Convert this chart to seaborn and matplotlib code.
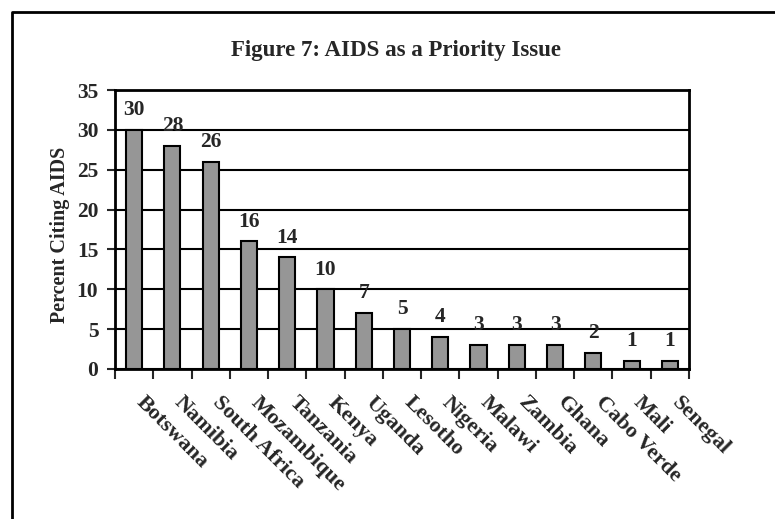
import matplotlib
matplotlib.use("Agg")
import matplotlib.pyplot as plt
import matplotlib.transforms as mtransforms
from matplotlib.lines import Line2D
import seaborn as sns
import pandas as pd

countries = ["Botswana", "Namibia", "South Africa", "Mozambique", "Tanzania",
             "Kenya", "Uganda", "Lesotho", "Nigeria", "Malawi", "Zambia",
             "Ghana", "Cabo Verde", "Mali", "Senegal"]
percent = [30, 28, 26, 16, 14, 10, 7, 5, 4, 3, 3, 3, 2, 1, 1]
y_ticks = [0, 5, 10, 15, 20, 25, 30, 35]

sns.set_style("white")
plt.rcParams['font.family'] = ['Liberation Serif', 'DejaVu Serif']
plt.rcParams['font.weight'] = 'bold'

FS = 15.5

df = pd.DataFrame({'country': countries, 'pct': percent})

fig = plt.figure(figsize=(7.75, 5.19), dpi=100)
ax = fig.add_axes([115 / 775, 1 - 369 / 519, 574 / 775, 279 / 519])

sns.barplot(data=df, x='country', y='pct', color='#969696', saturation=1,
            edgecolor='black', linewidth=1.5, width=0.42, ax=ax, zorder=3)

ax.set_ylim(0, 35)
ax.set_xlim(-0.5, len(countries) - 0.5)
ax.set_yticks(y_ticks)
ax.yaxis.grid(True, color='black', linewidth=1.5)
ax.set_axisbelow(True)

for s in ax.spines.values():
    s.set_visible(True)
    s.set_color('black')
    s.set_linewidth(2)

ax.bar_label(ax.containers[0], padding=7, fontsize=FS, fontweight='bold')

ax.set_xlabel('')
ax.set_ylabel('')
ax.tick_params(axis='y', which='major', direction='out', length=6, width=1.5,
               pad=6, labelsize=FS, left=True)
ax.set_xticks([i - 0.5 for i in range(len(countries) + 1)], minor=True)
ax.tick_params(axis='x', which='minor', direction='out', length=7, width=1.5,
               bottom=True)
ax.tick_params(axis='x', which='major', length=0, pad=17, labelsize=16)

offset = mtransforms.ScaledTranslation(12 / 100, 0, fig.dpi_scale_trans)
for lab in ax.get_xticklabels():
    lab.set_rotation(-45)
    lab.set_rotation_mode('anchor')
    lab.set_ha('left')
    lab.set_va('top')
    lab.set_fontweight('bold')
    lab.set_transform(lab.get_transform() + offset)
for lab in ax.get_yticklabels():
    lab.set_fontweight('bold')

fig.text(60 / 775, 1 - 235 / 519, 'Percent Citing AIDS', rotation=90,
         ha='center', va='center', fontsize=14.5, fontweight='bold')
fig.text(396 / 775, 1 - 56 / 519, 'Figure 7: AIDS as a Priority Issue',
         ha='center', va='baseline', fontsize=16.5, fontweight='bold')

# outer frame (only left and top edges are in view)
fx = 12 / 775
fy = 1 - 12 / 519
fig.add_artist(Line2D([fx, fx, 1.0], [0.0, fy, fy], color='black',
                      linewidth=2, transform=fig.transFigure))

fig.savefig('out.png', dpi=100)
